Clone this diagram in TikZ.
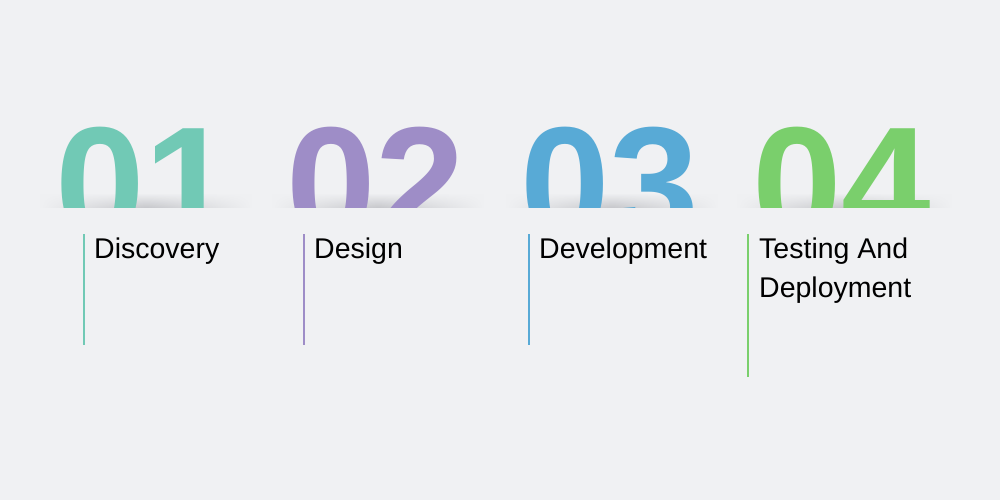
\documentclass[tikz,border=0pt]{standalone}
\usepackage{fontspec}
\setmainfont{Liberation Sans}
\newfontfamily\digfont{Liberation Sans}[BoldFont={* Bold}]
\usetikzlibrary{fadings}
\definecolor{bg}{RGB}{240,241,243}
\definecolor{cteal}{RGB}{113,201,181}
\definecolor{cpurple}{RGB}{158,141,199}
\definecolor{cblue}{RGB}{88,170,214}
\definecolor{cgreen}{RGB}{122,207,108}
\definecolor{shad}{RGB}{200,201,205}
\tikzfading[name=fadelr, left color=transparent!100, right color=transparent!100, middle color=transparent!0]
\tikzset{
  bignum/.style={anchor=base west, inner sep=0, font=\digfont\bfseries\fontsize{161}{161}\selectfont},
  lbl/.style={anchor=base west, inner sep=0, font=\fontsize{28.5}{28.5}\selectfont, text=black},
  vline/.style={line width=1.8pt},
  shadowbar/.style={top color=bg, bottom color=shad, draw=none, path fading=fadelr}
}
\newcommand{\cutnum}[1]{\raisebox{-32pt}[84pt][0pt]{#1}}
\begin{document}
\begin{tikzpicture}[x=1pt,y=-1pt]
\fill[bg] (0,0) rectangle (1000,500);
\useasboundingbox (0,0) rectangle (1000,500);
% shadows
\shade[shadowbar] (40,193) rectangle (252,207);
\shade[shadowbar] (272,193) rectangle (484,207);
\shade[shadowbar] (506,193) rectangle (718,207);
\shade[shadowbar] (737,193) rectangle (952,207);
% big numbers clipped
\begin{scope}
\clip (0,0) rectangle (1000,207);
\node[bignum, text=cteal] (n1) at (55,207) {\cutnum{01}};
\node[bignum, text=cpurple] (n2) at (286,207) {\cutnum{02}};
\node[bignum, text=cblue] (n3) at (520,207) {\cutnum{03}};
\node[bignum, text=cgreen] (n4) at (752,207) {\cutnum{04}};
\end{scope}
% vertical lines
\coordinate (a1) at (84,234); \coordinate (b1) at (84,345);
\coordinate (a2) at (304,234); \coordinate (b2) at (304,345);
\coordinate (a3) at (529,234); \coordinate (b3) at (529,345);
\coordinate (a4) at (748,234); \coordinate (b4) at (748,377);
\draw[vline, cteal] (a1) -- (b1);
\draw[vline, cpurple] (a2) -- (b2);
\draw[vline, cblue] (a3) -- (b3);
\draw[vline, cgreen] (a4) -- (b4);
% labels
\node[lbl] (l1) at (94,258) {Discovery};
\node[lbl] (l2) at (314,258) {Design};
\node[lbl] (l3) at (539,258) {Development};
\node[lbl] (l4) at (759,258) {Testing And};
\node[lbl] (l5) at (759,297) {Deployment};
\end{tikzpicture}
\end{document}
